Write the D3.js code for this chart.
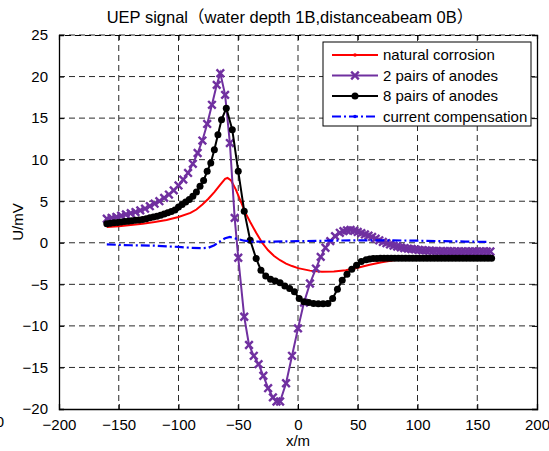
<!DOCTYPE html>
<html lang="en">
<head>
<meta charset="UTF-8">
<title>UEP signal</title>
<script src="https://d3js.org/d3.v7.min.js"></script>
<style>
  body{margin:0;padding:0;background:#fff;}
  svg{display:block;font-family:"Liberation Sans",Arial,"Noto Sans CJK SC",sans-serif;}
</style>
</head>
<body>
<svg id="chart"></svg>
<script>
// data
let titleText = "UEP signal\uFF08water depth 1B,distanceabeam 0B\uFF09"
let seriesNames = ["natural corrosion", "2 pairs of anodes", "8 pairs of anodes", "current compensation"]
let xTicks = [-200, -150, -100, -50, 0, 50, 100, 150, 200]
let yTicks = [-20, -15, -10, -5, 0, 5, 10, 15, 20, 25]

let redX = [-160,-150,-140,-130,-120,-110,-100,-90,-85,-80,-75,-70,-65,-61,-59,-56,-52,-48,-44,-40,-35,-30,-25,-20,-15,-10,-5,0,10,20,30,40,50,60,70,80,90,100,120,140,160]
let redY = [1.9,2.0,2.15,2.3,2.5,2.75,3.1,3.6,4.0,4.6,5.3,6.1,7.0,7.7,7.8,7.5,6.4,5.0,3.6,2.5,1.2,0.0,-0.9,-1.6,-2.1,-2.5,-2.8,-3.05,-3.35,-3.5,-3.45,-3.3,-3.0,-2.65,-2.35,-2.1,-1.95,-1.9,-1.85,-1.85,-1.85]

let purpleX = [-160,-156,-152,-148,-144,-140,-136,-132,-128,-124,-120,-116,-112,-108,-104,-100,-96,-92,-88,-84,-80,-76,-72,-68,-65,-61,-57,-53,-50,-45,-41,-37,-33,-29,-25,-21,-18,-15,-10,-5,0,5,10,15,19,23,27,31,35,38,41,44,47,50,53,56,59,62,65,68,71,74,77,80,83,86,89,92,95,98,101,104,107,110,113,116,119,122,125,128,131,134,137,140,143,146,149,152,155,158,161]
let purpleY = [2.9,3.0,3.1,3.25,3.4,3.55,3.7,3.9,4.1,4.4,4.7,5.0,5.4,5.8,6.3,6.9,7.6,8.4,9.5,10.8,12.3,14.3,16.6,19.0,20.4,17.8,12.0,3.0,-1.8,-8.9,-12.3,-13.6,-14.6,-16.0,-17.5,-18.6,-19.1,-19.1,-16.9,-13.6,-10.3,-7.2,-4.9,-3.1,-1.7,-0.6,0.2,0.8,1.2,1.4,1.5,1.55,1.45,1.3,1.15,1.0,0.85,0.7,0.5,0.3,0.1,-0.05,-0.2,-0.35,-0.45,-0.55,-0.65,-0.7,-0.75,-0.8,-0.85,-0.9,-0.92,-0.95,-0.97,-0.98,-1.0,-1.0,-1.02,-1.02,-1.03,-1.03,-1.04,-1.04,-1.05,-1.05,-1.05,-1.05,-1.05,-1.05,-1.05]

let blackX = [-160,-157,-154,-151,-148,-145,-142,-139,-136,-133,-130,-127,-124,-121,-118,-115,-112,-109,-106,-103,-100,-97,-94,-91,-88,-85,-82,-79,-76,-73,-70,-67,-64,-60,-55,-50,-45,-40,-35,-31,-27,-23,-19,-15,-11,-7,-3,1,5,9,13,17,21,25,29,33,37,41,45,49,53,57,60,63,66,69,72,75,78,81,84,87,90,93,96,99,102,105,108,111,114,117,120,123,126,129,132,135,138,141,144,147,150,153,156,159,162]
let blackY = [2.3,2.35,2.4,2.45,2.5,2.55,2.6,2.65,2.7,2.75,2.8,2.9,3.0,3.1,3.2,3.3,3.45,3.6,3.75,3.95,4.3,4.6,4.9,5.2,5.6,6.1,6.8,7.5,8.6,9.6,11.2,13.0,14.8,16.2,13.6,8.6,3.8,0.3,-1.9,-3.3,-4.0,-4.4,-4.6,-4.8,-5.2,-5.5,-5.9,-6.7,-7.1,-7.2,-7.3,-7.35,-7.35,-7.3,-6.7,-5.6,-4.5,-3.8,-3.2,-2.7,-2.25,-2.05,-1.95,-1.9,-1.88,-1.87,-1.86,-1.86,-1.85,-1.85,-1.85,-1.85,-1.85,-1.85,-1.85,-1.85,-1.85,-1.85,-1.85,-1.85,-1.85,-1.85,-1.85,-1.85,-1.85,-1.85,-1.85,-1.85,-1.85,-1.85,-1.85,-1.85,-1.85,-1.85,-1.85,-1.85,-1.85]

let blueX = [-160,-140,-120,-100,-90,-80,-75,-70,-65,-61,-57,-52,-45,-40,-30,-20,0,25,50,75,100,120,140,158]
let blueY = [-0.2,-0.3,-0.35,-0.5,-0.6,-0.65,-0.6,-0.3,0.2,0.55,0.7,0.5,0.25,0.15,0.15,0.15,0.2,0.25,0.3,0.3,0.25,0.2,0.15,0.1]

let svgw = 549, svgh = 451
let margen = {izq:59, der:12, sup:35, inf:42}
let grafw = svgw - margen.izq - margen.der
let grafh = svgh - margen.sup - margen.inf

let svg = d3.select("#chart").attr("width", svgw).attr("height", svgh)

let escalaX = d3.scaleLinear().domain([-200, 200]).range([0, grafw])
let escalaY = d3.scaleLinear().domain([-20, 25]).range([grafh, 0])

let g = svg.append("g").attr("transform", `translate(${margen.izq},${margen.sup})`)

// grid
let gridCol = "#2a2a2a"
g.append("g").selectAll("line").data(xTicks.slice(1, -1)).enter().append("line")
    .attr("x1", d => escalaX(d)).attr("x2", d => escalaX(d))
    .attr("y1", 0).attr("y2", grafh)
    .attr("stroke", gridCol).attr("stroke-dasharray", "6,4")
g.append("g").selectAll("line").data(yTicks.slice(1)).enter().append("line")
    .attr("x1", 0).attr("x2", grafw)
    .attr("y1", d => escalaY(d)).attr("y2", d => escalaY(d))
    .attr("stroke", gridCol).attr("stroke-dasharray", "6,4")

// axes with inward ticks
let ax = g.append("g").attr("transform", `translate(0,${grafh})`)
    .call(d3.axisBottom(escalaX).tickValues(xTicks).tickSize(-5).tickPadding(10))
let ay = g.append("g").call(d3.axisLeft(escalaY).tickValues(yTicks).tickSize(-5).tickPadding(11))
let axTop = g.append("g").call(d3.axisTop(escalaX).tickValues(xTicks).tickSize(-5).tickFormat(""))
let ayRight = g.append("g").attr("transform", `translate(${grafw},0)`)
    .call(d3.axisRight(escalaY).tickValues(yTicks).tickSize(-5).tickFormat(""))
;[ax, ay, axTop, ayRight].forEach(a => {
    a.selectAll("text").attr("font-size", 15).attr("fill", "#000")
        .attr("font-family", "'Liberation Sans', Arial, sans-serif")
    a.selectAll("line").attr("stroke", "#000")
    a.select(".domain").attr("stroke", "#000").attr("stroke-width", 1.3)
})
axTop.select(".domain").attr("stroke-dasharray", "6,4").attr("stroke-width", 1.2)

// series
let linea = d3.line().x(d => escalaX(d[0])).y(d => escalaY(d[1]))
let red = d3.zip(redX, redY)
let purple = d3.zip(purpleX, purpleY)
let black = d3.zip(blackX, blackY)
let blue = d3.zip(blueX, blueY)

let purpleCol = "#7030a0"

g.append("path").datum(red).attr("d", linea)
    .attr("fill", "none").attr("stroke", "#ff0000").attr("stroke-width", 2)

g.append("path").datum(purple).attr("d", linea)
    .attr("fill", "none").attr("stroke", purpleCol).attr("stroke-width", 2)
let cruz = "M-3.8,-3.8L3.8,3.8M-3.8,3.8L3.8,-3.8"
g.append("g").selectAll("path").data(purple).enter().append("path")
    .attr("transform", d => `translate(${escalaX(d[0])},${escalaY(d[1])})`)
    .attr("d", cruz).attr("stroke", purpleCol).attr("stroke-width", 2.4).attr("fill", "none")

g.append("path").datum(black).attr("d", linea)
    .attr("fill", "none").attr("stroke", "#000").attr("stroke-width", 2)
g.append("g").selectAll("circle").data(black).enter().append("circle")
    .attr("cx", d => escalaX(d[0])).attr("cy", d => escalaY(d[1]))
    .attr("r", 3.5).attr("fill", "#000")

g.append("path").datum(blue).attr("d", linea)
    .attr("fill", "none").attr("stroke", "#0000ff").attr("stroke-width", 2.2)
    .attr("stroke-dasharray", "9,3,2,3")

// legend
let leg = svg.append("g").attr("transform", "translate(323,42)")
leg.append("rect").attr("width", 208).attr("height", 84)
    .attr("fill", "#fff").attr("stroke", "#000").attr("stroke-width", 1)
let legCols = ["#ff0000", purpleCol, "#000", "#0000ff"]
seriesNames.forEach((nombre, i) => {
    let yy = 13 + i * 20.5
    let fila = leg.append("g").attr("transform", `translate(0,${yy})`)
    let l = fila.append("line").attr("x1", 9).attr("x2", 55).attr("y1", 0).attr("y2", 0)
        .attr("stroke", legCols[i]).attr("stroke-width", 2.2)
    if (i == 3) l.attr("stroke-dasharray", "9,3,2,3")
    if (i == 0) fila.append("circle").attr("cx", 32).attr("cy", 0).attr("r", 1.8).attr("fill", legCols[i])
    if (i == 1) fila.append("path").attr("transform", "translate(32,0)").attr("d", cruz)
        .attr("stroke", purpleCol).attr("stroke-width", 2.4)
    if (i == 2) fila.append("circle").attr("cx", 32).attr("cy", 0).attr("r", 3.5).attr("fill", "#000")
    if (i == 3) fila.append("circle").attr("cx", 32).attr("cy", 0).attr("r", 1.8).attr("fill", legCols[i])
    fila.append("text").attr("x", 60).attr("y", 0).attr("dy", "0.35em")
        .attr("font-size", 15).text(nombre)
})

// title and axis labels
svg.append("text").attr("x", 290).attr("y", 23)
    .attr("text-anchor", "middle").attr("font-size", 16.5).text(titleText)
svg.append("text").attr("x", margen.izq + grafw / 2).attr("y", 446)
    .attr("text-anchor", "middle").attr("font-size", 15).text("x/m")
svg.append("text").attr("transform", `translate(23,${margen.sup + grafh / 2}) rotate(-90)`)
    .attr("text-anchor", "middle").attr("font-size", 15).text("U/mV")
svg.append("text").attr("x", 4).attr("y", 427).attr("text-anchor", "end")
    .attr("font-size", 15).text("0")
</script>
</body>
</html>
